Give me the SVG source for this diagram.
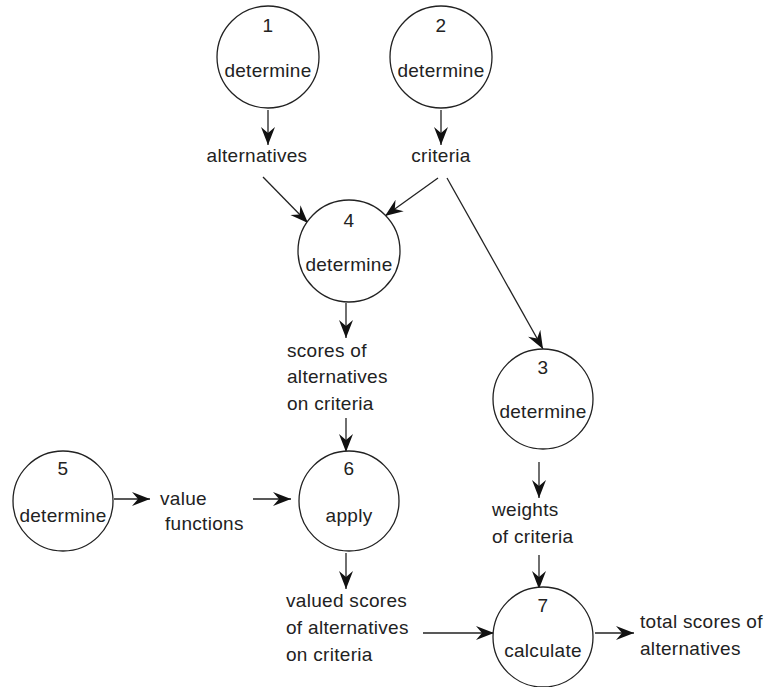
<svg xmlns="http://www.w3.org/2000/svg" width="767" height="687" viewBox="0 0 767 687">
<defs>
<marker id="ah" markerUnits="userSpaceOnUse" markerWidth="20" markerHeight="16" refX="18" refY="8" orient="auto">
<path d="M0,1 L18,8 L0,15 L6,8 z" fill="#111"/>
</marker>
<style>
.n circle{fill:#fff;stroke:#222;stroke-width:1.3}
text{font-family:"Liberation Sans",Arial,sans-serif;font-size:19px;fill:#222;letter-spacing:0.3px}
.c{text-anchor:middle}
#edges line{stroke:#222;stroke-width:1.3;marker-end:url(#ah)}
</style>
</defs>
<rect width="767" height="687" fill="#fff"/>
<g id="edges">
<line x1="268" y1="110" x2="268" y2="145"/>
<line x1="441" y1="110" x2="441" y2="145"/>
<line x1="263" y1="177" x2="308" y2="223"/>
<line x1="438" y1="178" x2="385" y2="216"/>
<line x1="447" y1="178" x2="543" y2="349"/>
<line x1="346" y1="303" x2="346" y2="338"/>
<line x1="346" y1="418" x2="346" y2="452"/>
<line x1="114" y1="499" x2="150" y2="499"/>
<line x1="253" y1="499" x2="291" y2="499"/>
<line x1="346" y1="553" x2="346" y2="589"/>
<line x1="539" y1="462" x2="539" y2="498"/>
<line x1="539" y1="555" x2="539" y2="589"/>
<line x1="423" y1="633" x2="494" y2="633"/>
<line x1="595" y1="633" x2="634" y2="633"/>
</g>
<g id="n1" class="n"><circle cx="268" cy="57" r="51"/><text class="c" x="268" y="32">1</text><text class="c" x="268" y="77">determine</text></g>
<g id="n2" class="n"><circle cx="441" cy="57" r="51"/><text class="c" x="441" y="32">2</text><text class="c" x="441" y="77">determine</text></g>
<g id="n4" class="n"><circle cx="349" cy="251" r="51"/><text class="c" x="349" y="227">4</text><text class="c" x="349" y="271">determine</text></g>
<g id="n3" class="n"><circle cx="543" cy="399" r="50"/><text class="c" x="543" y="374">3</text><text class="c" x="543" y="418">determine</text></g>
<g id="n5" class="n"><circle cx="63" cy="501" r="50"/><text class="c" x="63" y="475">5</text><text class="c" x="63" y="522">determine</text></g>
<g id="n6" class="n"><circle cx="349" cy="501" r="50"/><text class="c" x="349" y="475">6</text><text class="c" x="349" y="522">apply</text></g>
<g id="n7" class="n"><circle cx="543" cy="637" r="50"/><text class="c" x="543" y="612">7</text><text class="c" x="543" y="657">calculate</text></g>
<g id="labels">
<text class="c" x="257" y="162">alternatives</text>
<text class="c" x="441" y="162">criteria</text>
<text x="287" y="357">scores of</text>
<text x="287" y="383">alternatives</text>
<text x="287" y="410">on criteria</text>
<text x="160" y="505">value</text>
<text x="165" y="530">functions</text>
<text x="286" y="607">valued scores</text>
<text x="286" y="634">of alternatives</text>
<text x="286" y="661">on criteria</text>
<text x="492" y="516">weights</text>
<text x="492" y="543">of criteria</text>
<text x="640" y="628">total scores of</text>
<text x="640" y="655">alternatives</text>
</g>
</svg>
